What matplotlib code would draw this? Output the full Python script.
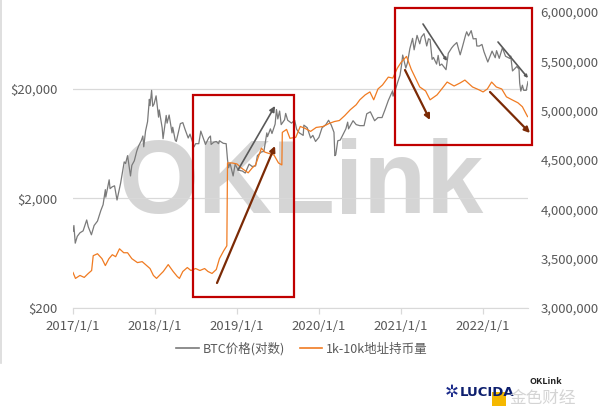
import matplotlib
matplotlib.use("Agg")
import matplotlib.pyplot as plt
from matplotlib.lines import Line2D
from matplotlib.patches import Rectangle
from matplotlib.ticker import FixedLocator, NullLocator, FuncFormatter
import pandas as pd

plt.rcParams['font.family'] = ['Noto Sans CJK SC', 'DejaVu Sans']

# BTC price (log axis)
btc_dates = [
    "2017-01-01", "2017-01-05", "2017-01-11", "2017-01-20", "2017-02-01", "2017-02-15",
    "2017-03-03", "2017-03-10", "2017-03-24", "2017-04-05", "2017-04-20", "2017-05-05",
    "2017-05-15", "2017-05-25", "2017-05-27", "2017-06-11", "2017-06-15", "2017-06-25",
    "2017-07-05", "2017-07-16", "2017-08-01", "2017-08-17", "2017-08-23", "2017-09-01",
    "2017-09-14", "2017-09-20", "2017-10-01", "2017-10-12", "2017-10-20", "2017-11-01",
    "2017-11-08", "2017-11-12", "2017-11-20", "2017-11-29", "2017-12-07", "2017-12-10",
    "2017-12-17", "2017-12-22", "2017-12-28", "2018-01-06", "2018-01-17", "2018-01-20",
    "2018-02-02", "2018-02-06", "2018-02-20", "2018-02-24", "2018-03-05", "2018-03-18",
    "2018-03-21", "2018-04-01", "2018-04-06", "2018-04-24", "2018-05-05", "2018-05-15",
    "2018-05-29", "2018-06-06", "2018-06-24", "2018-07-01", "2018-07-15", "2018-07-24",
    "2018-08-05", "2018-08-14", "2018-08-28", "2018-09-05", "2018-09-08", "2018-09-20",
    "2018-10-01", "2018-10-11", "2018-10-15", "2018-11-01", "2018-11-14", "2018-11-20",
    "2018-11-25", "2018-12-01", "2018-12-15", "2018-12-24", "2019-01-01", "2019-01-10",
    "2019-01-25", "2019-02-07", "2019-02-24", "2019-03-10", "2019-03-25", "2019-04-02",
    "2019-04-20", "2019-05-01", "2019-05-14", "2019-05-17", "2019-05-30", "2019-06-06",
    "2019-06-20", "2019-06-26", "2019-07-02", "2019-07-10", "2019-07-17", "2019-08-01",
    "2019-08-06", "2019-08-15", "2019-09-01", "2019-09-15", "2019-09-24", "2019-10-06",
    "2019-10-23", "2019-10-26", "2019-11-10", "2019-11-25", "2019-12-05", "2019-12-17",
    "2020-01-01", "2020-01-15", "2020-02-01", "2020-02-13", "2020-02-25", "2020-03-08",
    "2020-03-12", "2020-03-16", "2020-03-25", "2020-04-05", "2020-04-30", "2020-05-08",
    "2020-05-12", "2020-06-01", "2020-06-15", "2020-07-01", "2020-07-20", "2020-08-01",
    "2020-08-17", "2020-09-05", "2020-09-20", "2020-10-08", "2020-10-21", "2020-11-05",
    "2020-11-24", "2020-11-26", "2020-12-05", "2020-12-17", "2020-12-27", "2021-01-03",
    "2021-01-08", "2021-01-22", "2021-01-29", "2021-02-09", "2021-02-21", "2021-02-28",
    "2021-03-13", "2021-03-25", "2021-04-01", "2021-04-13", "2021-04-25", "2021-05-03",
    "2021-05-10", "2021-05-19", "2021-05-25", "2021-06-08", "2021-06-15", "2021-06-22",
    "2021-07-01", "2021-07-20", "2021-07-30", "2021-08-14", "2021-08-23", "2021-09-06",
    "2021-09-21", "2021-10-01", "2021-10-15", "2021-10-20", "2021-10-28", "2021-11-09",
    "2021-11-18", "2021-12-01", "2021-12-04", "2021-12-15", "2021-12-27", "2022-01-05",
    "2022-01-22", "2022-02-10", "2022-02-24", "2022-03-02", "2022-03-14", "2022-03-28",
    "2022-04-11", "2022-04-30", "2022-05-04", "2022-05-12", "2022-05-31", "2022-06-10",
    "2022-06-13", "2022-06-18", "2022-06-25", "2022-07-01", "2022-07-12", "2022-07-20",
]
btc_price = [
    1000, 1130, 780, 900, 970, 1010,
    1270, 1100, 930, 1130, 1240, 1550,
    1750, 2400, 2050, 2950, 2450, 2550,
    2600, 1930, 2750, 4300, 4150, 4900,
    3200, 4000, 4400, 5400, 6000, 6700,
    7400, 5900, 8200, 10000, 16000, 14000,
    19300, 13800, 14500, 17200, 11000, 12800,
    8800, 7000, 11400, 9700, 11500, 7900,
    8900, 6800, 6600, 9600, 9800, 8500,
    7100, 7700, 5900, 6300, 6300, 8200,
    7000, 6200, 7100, 7400, 6200, 6500,
    6600, 6300, 6700, 6350, 6300, 4500,
    3800, 4200, 3200, 4100, 3800, 3600,
    3550, 3400, 4100, 3900, 3950, 4900,
    5300, 5350, 7900, 7300, 8600, 7800,
    9500, 12900, 10600, 12500, 9400, 10400,
    11900, 10300, 9700, 10300, 8500, 7900,
    7500, 9300, 8800, 7100, 7500, 6600,
    7200, 8800, 9400, 10300, 9300, 8000,
    4900, 5000, 6700, 6800, 8600, 9900,
    8600, 10200, 9400, 9200, 9200, 11800,
    12300, 10200, 10900, 10900, 12800, 15600,
    19100, 17100, 19100, 23000, 26500, 32800,
    40500, 30800, 34300, 46400, 57500, 45200,
    61200, 51300, 59000, 63500, 49000, 57000,
    56000, 37000, 38500, 33500, 40200, 32500,
    33500, 29800, 42000, 47000, 49500, 52700,
    40700, 48100, 61500, 66000, 60500, 67600,
    56900, 57200, 49000, 48900, 50600, 43400,
    35000, 44000, 38300, 44400, 37800, 47100,
    39500, 37700, 39700, 29000, 31800, 30100,
    22500, 19000, 21500, 19300, 19300, 23200,
]

# BTC held by 1k-10k addresses
hold_dates = [
    "2017-01-01", "2017-01-12", "2017-02-01", "2017-02-20", "2017-03-10", "2017-03-25",
    "2017-04-01", "2017-04-20", "2017-05-10", "2017-05-25", "2017-06-10", "2017-06-25",
    "2017-07-10", "2017-07-27", "2017-08-15", "2017-09-01", "2017-09-20", "2017-10-15",
    "2017-11-05", "2017-11-25", "2017-12-10", "2017-12-25", "2018-01-08", "2018-01-25",
    "2018-02-07", "2018-03-01", "2018-03-23", "2018-04-10", "2018-04-20", "2018-05-05",
    "2018-05-25", "2018-06-10", "2018-07-01", "2018-07-20", "2018-08-10", "2018-08-25",
    "2018-09-12", "2018-10-01", "2018-10-15", "2018-11-03", "2018-11-17", "2018-11-20",
    "2018-12-10", "2019-01-01", "2019-01-20", "2019-02-20", "2019-03-10", "2019-03-25",
    "2019-04-20", "2019-05-05", "2019-06-15", "2019-07-05", "2019-07-20", "2019-07-22",
    "2019-08-10", "2019-08-25", "2019-09-20", "2019-10-10", "2019-11-01", "2019-11-25",
    "2019-12-20", "2020-01-20", "2020-02-15", "2020-03-10", "2020-04-01", "2020-04-25",
    "2020-05-20", "2020-06-15", "2020-07-01", "2020-07-25", "2020-08-15", "2020-09-01",
    "2020-09-20", "2020-10-10", "2020-11-05", "2020-11-25", "2020-12-15", "2021-01-01",
    "2021-01-25", "2021-02-15", "2021-03-25", "2021-04-20", "2021-05-10", "2021-06-10",
    "2021-07-01", "2021-07-25", "2021-08-25", "2021-09-20", "2021-10-12", "2021-11-15",
    "2021-12-15", "2022-01-01", "2022-01-20", "2022-02-08", "2022-03-01", "2022-03-25",
    "2022-04-15", "2022-05-10", "2022-06-05", "2022-06-25", "2022-07-18",
]
hold_amount = [
    3.36, 3.30, 3.33, 3.31, 3.35, 3.38,
    3.53, 3.55, 3.50, 3.43, 3.50, 3.54,
    3.52, 3.60, 3.56, 3.56, 3.50, 3.46,
    3.47, 3.43, 3.40, 3.33, 3.30, 3.34,
    3.37, 3.44, 3.37, 3.32, 3.30, 3.37,
    3.41, 3.38, 3.40, 3.38, 3.40, 3.37,
    3.35, 3.39, 3.50, 3.58, 3.63, 4.47,
    4.47, 4.46, 4.42, 4.37, 4.42, 4.45,
    4.62, 4.58, 4.55, 4.47, 4.45, 4.78,
    4.81, 4.72, 4.73, 4.84, 4.82, 4.79,
    4.83, 4.84, 4.87, 4.89, 4.90, 4.95,
    5.01, 5.06, 5.11, 5.16, 5.19, 5.11,
    5.22, 5.26, 5.34, 5.33, 5.43, 5.49,
    5.55, 5.42, 5.24, 5.20, 5.11, 5.16,
    5.22, 5.29, 5.25, 5.28, 5.31, 5.24,
    5.21, 5.19, 5.22, 5.29, 5.24, 5.22,
    5.14, 5.11, 5.08, 5.04, 4.94,
]
hold_amount = [v * 1e6 for v in hold_amount]

year_ticks = ["2017-01-01", "2018-01-01", "2019-01-01", "2020-01-01", "2021-01-01", "2022-01-01"]
year_labels = ["2017/1/1", "2018/1/1", "2019/1/1", "2020/1/1", "2021/1/1", "2022/1/1"]
price_ticks = [200, 2000, 20000]
hold_ticks = [3e6, 3.5e6, 4e6, 4.5e6, 5e6, 5.5e6, 6e6]

TXT = "#595959"
GRID = "#d9d9d9"
GRAY = "#7a7a7a"
ORANGE = "#f07b22"
RED = "#c00000"
BROWN = "#7b2a05"

fig = plt.figure(figsize=(6, 4.17), dpi=100)
ax = fig.add_axes([73 / 600, 1 - 308 / 417, 455 / 600, 296 / 417])
ax2 = ax.twinx()

ax.plot(pd.to_datetime(btc_dates), btc_price, color=GRAY, lw=0.9, label="BTC价格(对数)")
ax2.plot(pd.to_datetime(hold_dates), hold_amount, color=ORANGE, lw=0.9, label="1k-10k地址持币量")

ax.set_yscale("log")
ax.set_ylim(200, 100000)
ax.yaxis.set_major_locator(FixedLocator(price_ticks))
ax.yaxis.set_minor_locator(NullLocator())
ax.yaxis.set_major_formatter(FuncFormatter(lambda v, p: f"${v:,.0f}"))
ax.grid(axis="y", color=GRID, lw=0.9)
ax.set_axisbelow(True)

ax2.set_ylim(3e6, 6e6)
ax2.yaxis.set_major_locator(FixedLocator(hold_ticks))
ax2.yaxis.set_major_formatter(FuncFormatter(lambda v, p: f"{v:,.0f}"))

ax.set_xlim(pd.Timestamp("2017-01-01"), pd.Timestamp("2022-07-20"))
ax.set_xticks(pd.to_datetime(year_ticks))
ax.set_xticklabels(year_labels)

for a in (ax, ax2):
    for s in ("top", "left", "right"):
        a.spines[s].set_visible(False)
    a.spines["bottom"].set_color(GRID)
ax2.spines["bottom"].set_visible(False)

ax.tick_params(axis="x", colors=GRID, labelcolor=TXT, labelsize=9.5, length=4, width=0.9, pad=5)
ax.tick_params(axis="y", length=0, labelcolor=TXT, labelsize=9.5, pad=11)
ax2.tick_params(axis="y", length=0, labelcolor=TXT, labelsize=9.5, pad=9)

# watermark
ax.text(0.503, 0.41, "OKLink", transform=ax.transAxes, ha="center", va="center",
        fontsize=74, fontweight="bold", family="Liberation Sans", color="#c8c8c8",
        alpha=0.75, zorder=0.5)


def fx(px):
    return (px - 73) / 455


def fy(py):
    return (308 - py) / 296


# highlight boxes
for x0, y0, x1, y1 in [(193, 95, 294, 297), (395, 8, 532, 145)]:
    ax2.add_patch(Rectangle((fx(x0), fy(y1)), fx(x1) - fx(x0), fy(y0) - fy(y1),
                            transform=ax2.transAxes, fill=False, ec=RED, lw=1.6,
                            clip_on=False, zorder=5))

# trend arrows
arrows = [
    ((238, 170), (275, 106), "#595959", 1.2, 8),
    ((217, 283), (275, 146), BROWN, 1.6, 8),
    ((423, 24), (447, 61), "#595959", 1.2, 4),
    ((405, 70), (430, 120), BROWN, 1.6, 8),
    ((498, 42), (528, 78), "#595959", 1.2, 4),
    ((490, 92), (530, 133), BROWN, 1.6, 8),
]
for (x0, y0), (x1, y1), c, w, hs in arrows:
    ax2.annotate("", xy=(fx(x1), fy(y1)), xytext=(fx(x0), fy(y0)),
                 xycoords=ax2.transAxes, textcoords=ax2.transAxes,
                 arrowprops=dict(arrowstyle="-|>", color=c, lw=w, mutation_scale=hs,
                                 shrinkA=0, shrinkB=0), zorder=6, annotation_clip=False)

# legend
handles = [Line2D([], [], color=GRAY, lw=1.2), Line2D([], [], color=ORANGE, lw=1.2)]
fig.legend(handles, ["BTC价格(对数)", "1k-10k地址持币量"], loc="center",
           bbox_to_anchor=(0.503, 1 - 349 / 417), ncol=2, frameon=False,
           fontsize=9, handlelength=1.8, handletextpad=0.3, columnspacing=1.2,
           labelcolor=TXT)

# left border of the chart area
fig.add_artist(Line2D([0.8 / 600, 0.8 / 600], [1 - 363 / 417, 1], color=GRID, lw=1.2))

# source logos
fig.text(445 / 600, 1 - 392 / 417, "✲", color="#1a2a8a", fontsize=12, ha="left",
         va="center", family="DejaVu Sans")
fig.text(460 / 600, 1 - 392 / 417, "LUCIDA", color="#0d1f6e", fontsize=9.5,
         fontweight="bold", ha="left", va="center", family="Liberation Sans Narrow")
fig.patches.append(Rectangle((492 / 600, 1 - 406 / 417), 14 / 600, 14 / 417,
                             transform=fig.transFigure, fc="#f5b800", ec="none"))
fig.text(530 / 600, 1 - 381 / 417, "OKLink", color="#222222", fontsize=6.5, fontweight="bold",
         ha="left", va="center")
fig.text(510 / 600, 1 - 398 / 417, "金色财经", color="#d0d0d0", fontsize=12, ha="left",
         va="center", alpha=0.9)

fig.savefig("out.png", dpi=100)
